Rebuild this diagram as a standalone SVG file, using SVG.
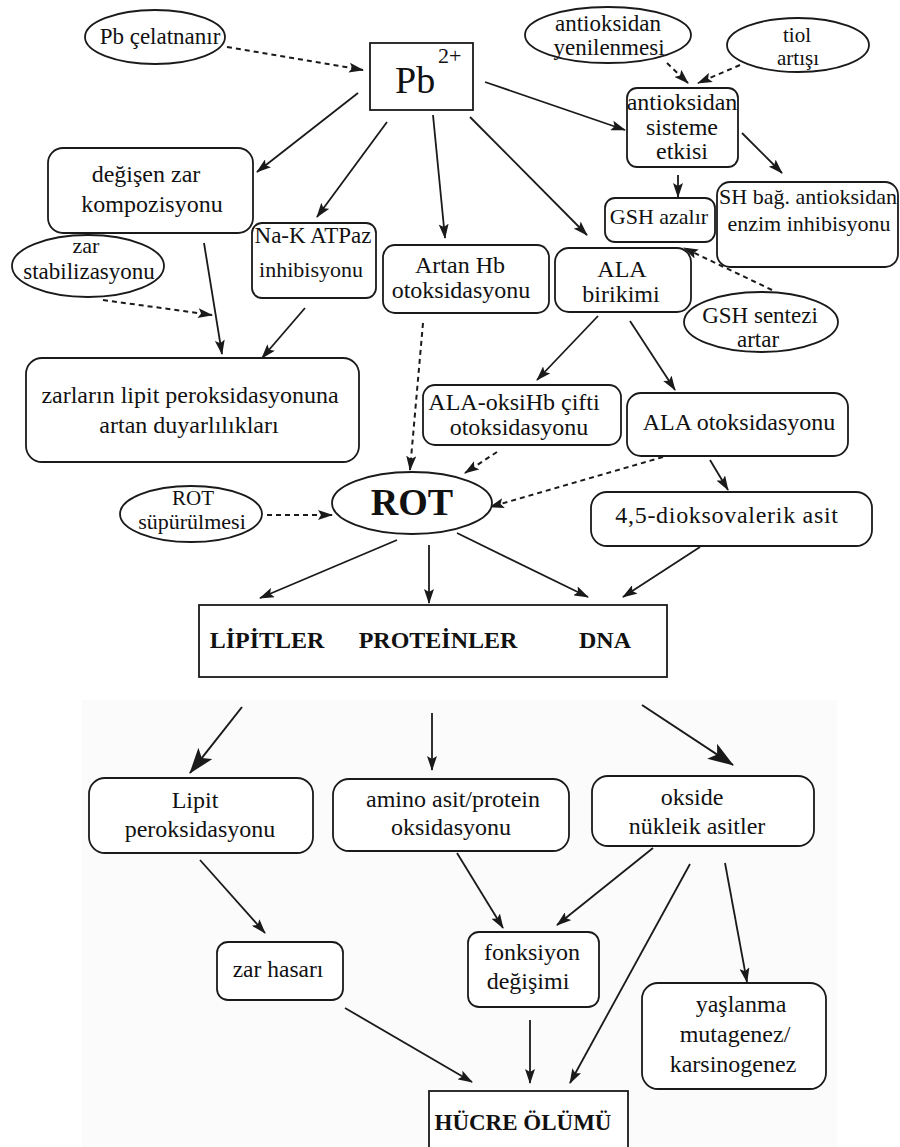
<svg xmlns="http://www.w3.org/2000/svg" width="900" height="1147" viewBox="0 0 900 1147">
<style>
text{font-family:"Liberation Serif","Times New Roman",serif;fill:#111;text-anchor:middle;font-size:24px}
.b{font-weight:bold}
.box{fill:#fff;stroke:#1a1a1a;stroke-width:1.8}
.ell{fill:#fff;stroke:#1a1a1a;stroke-width:1.8}
.c{fill:none;stroke:#1a1a1a;stroke-width:1.8;marker-end:url(#ah)}
.d{fill:none;stroke:#1a1a1a;stroke-width:2;stroke-dasharray:5 4;marker-end:url(#ah)}
.big{fill:none;stroke:#1a1a1a;stroke-width:2;marker-end:url(#bh)}
</style>
<defs>
<marker id="ah" markerUnits="userSpaceOnUse" markerWidth="15" markerHeight="10" refX="14" refY="5" orient="auto"><path d="M0,0 L15,5 L0,10 L3,5 Z" fill="#1a1a1a"/></marker>
<marker id="bh" markerUnits="userSpaceOnUse" markerWidth="26" markerHeight="18" refX="25" refY="9" orient="auto"><path d="M0,0 L26,9 L0,18 L6,9 Z" fill="#1a1a1a"/></marker>
</defs>
<rect x="0" y="0" width="900" height="1147" fill="#fff"/>
<rect x="82" y="700" width="755" height="447" fill="#fbfbfb"/>

<g id="connectors">
<path class="d" d="M227,47 L363,70"/>
<path class="c" d="M358,93 L257,172"/>
<path class="c" d="M387,122 L317,217"/>
<path class="c" d="M433,115 L445,238"/>
<path class="c" d="M470,117 L587,235"/>
<path class="c" d="M485,82 L625,130"/>
<path class="d" d="M667,63 L688,83"/>
<path class="d" d="M740,65 L698,83"/>
<path class="c" d="M678,175 L678,197"/>
<path class="c" d="M742,133 L782,173"/>
<path class="d" d="M772,290 L684,248"/>
<path class="c" d="M204,243 L222,354"/>
<path class="d" d="M103,300 L212,315"/>
<path class="c" d="M305,308 L262,358"/>
<path class="d" d="M423,323 L410,470"/>
<path class="c" d="M598,316 L537,380"/>
<path class="c" d="M630,321 L675,390"/>
<path class="d" d="M497,452 L465,473"/>
<path class="d" d="M663,457 L490,507"/>
<path class="c" d="M710,460 L728,490"/>
<path class="d" d="M267,515 L332,515"/>
<path class="c" d="M397,540 L260,598"/>
<path class="c" d="M429,545 L429,603"/>
<path class="c" d="M457,533 L588,597"/>
<path class="c" d="M700,547 L623,597"/>
<path class="big" d="M242,707 L190,773"/>
<path class="c" d="M432,713 L432,770"/>
<path class="big" d="M642,705 L733,765"/>
<path class="c" d="M200,860 L265,933"/>
<path class="c" d="M457,853 L503,928"/>
<path class="c" d="M653,848 L557,925"/>
<path class="c" d="M690,864 L570,1083"/>
<path class="c" d="M725,863 L747,982"/>
<path class="c" d="M345,1008 L472,1082"/>
<path class="c" d="M530,1020 L530,1083"/>
</g>

<g id="pb-celat"><ellipse class="ell" cx="155" cy="37" rx="70" ry="27"/><text x="160" y="44" style="font-size:23px">Pb çelatnanır</text></g>
<g id="pb"><rect class="box" x="370" y="43" width="103" height="67"/><text x="395" y="93" style="font-size:38px;text-anchor:start">Pb</text><text x="438" y="63" style="font-size:22px;text-anchor:start">2+</text></g>
<g id="antiyen"><ellipse class="ell" cx="608" cy="35" rx="83" ry="28"/><text x="608" y="31" style="font-size:23px">antioksidan</text><text x="609" y="55" style="font-size:23px">yenilenmesi</text></g>
<g id="tiol"><ellipse class="ell" cx="798" cy="45" rx="71" ry="27"/><text x="797" y="42" style="font-size:21px">tiol</text><text x="798" y="65" style="font-size:21px">artışı</text></g>
<g id="antisis"><rect class="box" x="627" y="88" width="111" height="79" rx="10"/><text x="682" y="110">antioksidan</text><text x="682" y="135">sisteme</text><text x="682" y="159">etkisi</text></g>
<g id="gshaz"><rect class="box" x="605" y="198" width="110" height="44" rx="10"/><text x="659" y="224" style="font-size:22px">GSH azalır</text></g>
<g id="shbag"><rect class="box" x="717" y="182" width="181" height="85" rx="13"/><text x="808" y="204" style="font-size:22px">SH bağ. antioksidan</text><text x="809" y="231" style="font-size:22px">enzim inhibisyonu</text></g>
<g id="degisen"><rect class="box" x="48" y="148" width="205" height="85" rx="15"/><text x="146" y="182">değişen zar</text><text x="152" y="212">kompozisyonu</text></g>
<g id="nak"><rect class="box" x="252" y="223" width="124" height="75" rx="10"/><text x="313" y="243" style="font-size:23px">Na-K ATPaz</text><text x="311" y="277" style="font-size:22px">inhibisyonu</text></g>
<g id="zarstab"><ellipse class="ell" cx="88" cy="266" rx="76" ry="31"/><text x="86" y="253" style="font-size:22px">zar</text><text x="89" y="279" style="font-size:23px">stabilizasyonu</text></g>
<g id="artanhb"><rect class="box" x="383" y="245" width="166" height="68" rx="12"/><text x="460" y="273">Artan Hb</text><text x="461" y="298">otoksidasyonu</text></g>
<g id="alabir"><rect class="box" x="555" y="248" width="136" height="64" rx="14"/><text x="622" y="277">ALA</text><text x="621" y="302">birikimi</text></g>
<g id="gshsen"><ellipse class="ell" cx="761" cy="322" rx="77" ry="30"/><text x="760" y="323" style="font-size:23px">GSH sentezi</text><text x="758" y="347" style="font-size:23px">artar</text></g>
<g id="zarlarin"><rect class="box" x="26" y="358" width="333" height="104" rx="16"/><text x="190" y="403">zarların lipit peroksidasyonuna</text><text x="189" y="433">artan duyarlılıkları</text></g>
<g id="alaoksi"><rect class="box" x="423" y="385" width="198" height="60" rx="12"/><text x="514" y="410">ALA-oksiHb çifti</text><text x="519" y="435">otoksidasyonu</text></g>
<g id="alaoto"><rect class="box" x="627" y="393" width="221" height="63" rx="14"/><text x="739" y="430">ALA otoksidasyonu</text></g>
<g id="rot"><ellipse class="ell" cx="412" cy="503" rx="80" ry="31"/><text class="b" x="412" y="515" style="font-size:38px">ROT</text></g>
<g id="rotsup"><ellipse class="ell" cx="191" cy="514" rx="71" ry="28"/><text x="193" y="505" style="font-size:21px">ROT</text><text x="192" y="529" style="font-size:22px">süpürülmesi</text></g>
<g id="diokso"><rect class="box" x="591" y="492" width="281" height="54" rx="16"/><text x="727" y="523" style="letter-spacing:0.7px">4,5-dioksovalerik asit</text></g>
<g id="biomol"><rect class="box" x="199" y="605" width="468" height="72"/><text class="b" x="267" y="648">LİPİTLER</text><text class="b" x="438" y="648">PROTEİNLER</text><text class="b" x="605" y="648">DNA</text></g>
<g id="lipitper"><rect class="box" x="89" y="778" width="224" height="75" rx="16"/><text x="195" y="808">Lipit</text><text x="200" y="837">peroksidasyonu</text></g>
<g id="amino"><rect class="box" x="333" y="779" width="236" height="72" rx="16"/><text x="453" y="807">amino asit/protein</text><text x="451" y="835">oksidasyonu</text></g>
<g id="okside"><rect class="box" x="592" y="776" width="222" height="70" rx="16"/><text x="692" y="805">okside</text><text x="697" y="834">nükleik asitler</text></g>
<g id="zarhasari"><rect class="box" x="217" y="942" width="126" height="58" rx="11"/><text x="278" y="977" style="font-size:23.5px">zar hasarı</text></g>
<g id="fonksiyon"><rect class="box" x="468" y="932" width="131" height="75" rx="11"/><text x="532" y="960">fonksiyon</text><text x="528" y="989">değişimi</text></g>
<g id="yaslanma"><rect class="box" x="642" y="983" width="184" height="106" rx="16"/><text x="741" y="1012">yaşlanma</text><text x="735" y="1042">mutagenez/</text><text x="733" y="1072">karsinogenez</text></g>
<g id="hucre"><rect class="box" x="429" y="1091" width="199" height="70"/><text class="b" x="523" y="1130" style="font-size:23px">HÜCRE ÖLÜMÜ</text></g>
</svg>
